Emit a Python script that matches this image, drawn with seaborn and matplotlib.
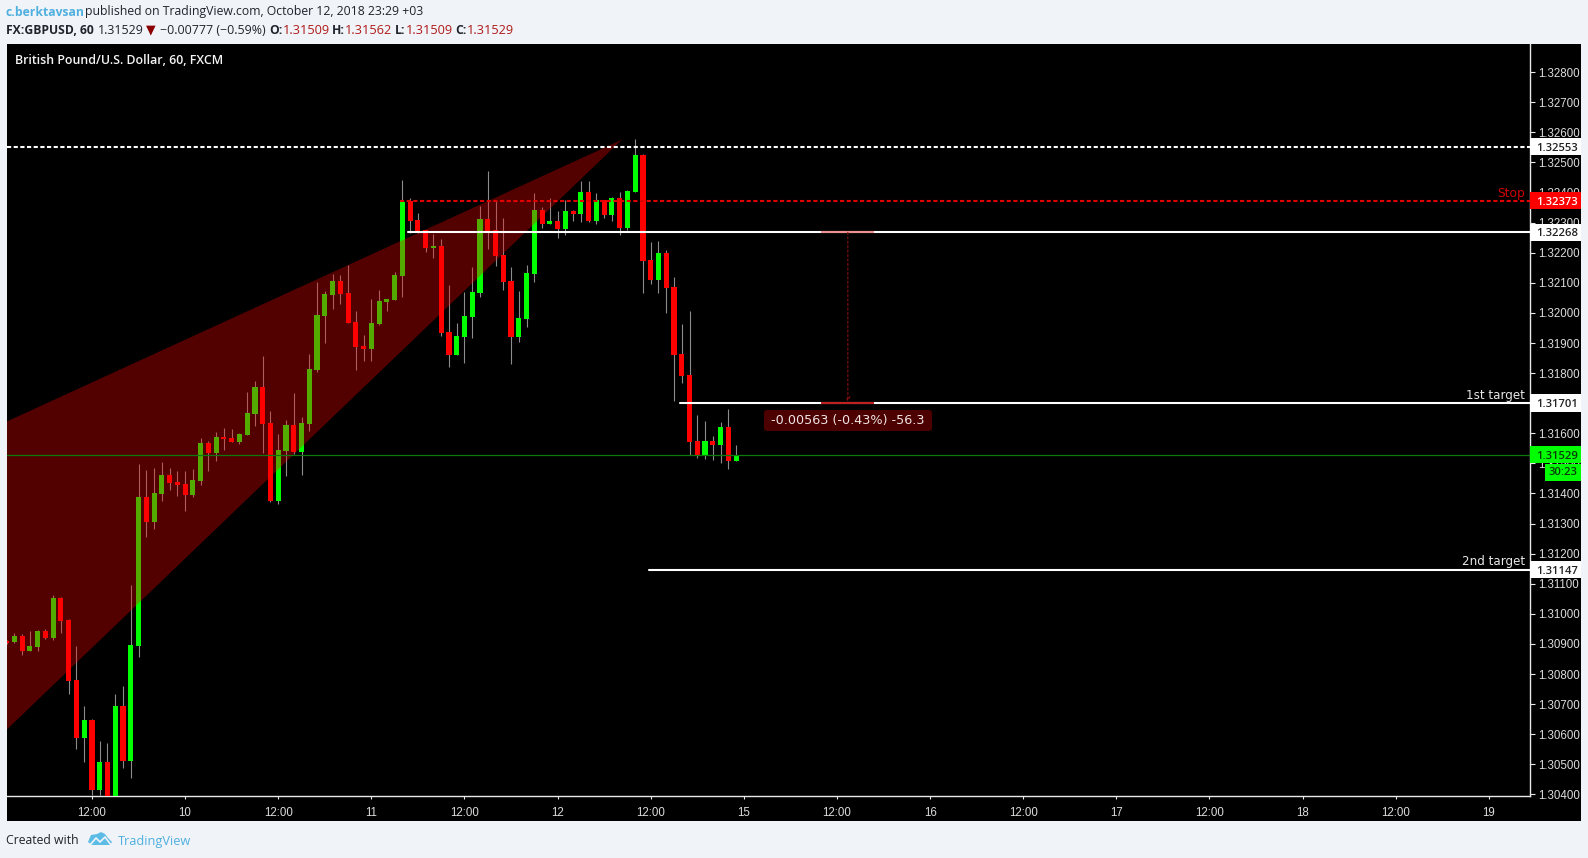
import numpy as np
import pandas as pd
import matplotlib
matplotlib.use('Agg')
import matplotlib.pyplot as plt
import matplotlib.transforms as mtrans
from matplotlib.patches import Rectangle, Polygon, FancyBboxPatch
import seaborn as sns

# hourly candles, hour 0 = Oct 9 12:00
hours = list(range(-11, 84))
opens = [1.30911, 1.30905, 1.30927, 1.30875, 1.30891, 1.30944, 1.30921, 1.31054, 1.30980, 1.30781,
         1.30588, 1.30648, 1.30416, 1.30509, 1.30382, 1.30695, 1.30512, 1.30894, 1.31389, 1.31306,
         1.31399, 1.31462, 1.31439, 1.31432, 1.31396, 1.31442, 1.31569, 1.31535, 1.31589, 1.31585,
         1.31572, 1.31595, 1.31665, 1.31755, 1.31635, 1.31376, 1.31542, 1.31629, 1.31539, 1.31632,
         1.31811, 1.31991, 1.32061, 1.32107, 1.32067, 1.31971, 1.31891, 1.31881, 1.31964, 1.32037,
         1.32044, 1.32124, 1.32373, 1.32310, 1.32277, 1.32217, 1.32223, 1.31938, 1.31861, 1.31921,
         1.31987, 1.32067, 1.32313, 1.32277, 1.32194, 1.32107, 1.31921, 1.31981, 1.32130, 1.32343,
         1.32297, 1.32307, 1.32280, 1.32340, 1.32330, 1.32403, 1.32307, 1.32376, 1.32326, 1.32383,
         1.32283, 1.32403, 1.32526, 1.32177, 1.32110, 1.32200, 1.32087, 1.31865, 1.31795, 1.31575,
         1.31526, 1.31575, 1.31562, 1.31622, 1.31509]
highs = [1.30914, 1.30937, 1.30934, 1.30942, 1.30947, 1.30951, 1.31064, 1.31057, 1.30984, 1.30894,
         1.30695, 1.30651, 1.30578, 1.30572, 1.30735, 1.30761, 1.31097, 1.31499, 1.31479, 1.31486,
         1.31506, 1.31486, 1.31476, 1.31476, 1.31482, 1.31585, 1.31575, 1.31605, 1.31619, 1.31615,
         1.31602, 1.31738, 1.31775, 1.31858, 1.31675, 1.31599, 1.31645, 1.31735, 1.31655, 1.31865,
         1.32104, 1.32074, 1.32130, 1.32127, 1.32160, 1.32007, 1.31928, 1.32047, 1.32077, 1.32047,
         1.32137, 1.32443, 1.32383, 1.32333, 1.32277, 1.32263, 1.32247, 1.32094, 1.31968, 1.32071,
         1.32154, 1.32356, 1.32473, 1.32376, 1.32316, 1.32154, 1.32074, 1.32160, 1.32400, 1.32353,
         1.32383, 1.32340, 1.32376, 1.32343, 1.32439, 1.32439, 1.32400, 1.32376, 1.32386, 1.32403,
         1.32410, 1.32579, 1.32529, 1.32237, 1.32240, 1.32210, 1.32120, 1.31964, 1.32007, 1.31662,
         1.31642, 1.31592, 1.31639, 1.31682, 1.31562]
lows = [1.30901, 1.30904, 1.30864, 1.30875, 1.30875, 1.30917, 1.30914, 1.30937, 1.30735, 1.30552,
        1.30509, 1.30399, 1.30399, 1.30376, 1.30382, 1.30489, 1.30455, 1.30858, 1.31256, 1.31283,
        1.31376, 1.31413, 1.31393, 1.31343, 1.31389, 1.31429, 1.31476, 1.31509, 1.31545, 1.31572,
        1.31565, 1.31595, 1.31625, 1.31535, 1.31373, 1.31366, 1.31459, 1.31532, 1.31462, 1.31609,
        1.31805, 1.31901, 1.32014, 1.32031, 1.31968, 1.31811, 1.31841, 1.31841, 1.31961, 1.32007,
        1.32044, 1.32054, 1.32267, 1.32267, 1.32204, 1.32184, 1.31924, 1.31821, 1.31861, 1.31835,
        1.31918, 1.32054, 1.32213, 1.32157, 1.32077, 1.31831, 1.31904, 1.31954, 1.32104, 1.32283,
        1.32297, 1.32250, 1.32260, 1.32307, 1.32303, 1.32303, 1.32297, 1.32316, 1.32307, 1.32260,
        1.32277, 1.32403, 1.32067, 1.32097, 1.32067, 1.32001, 1.31708, 1.31768, 1.31529, 1.31519,
        1.31516, 1.31512, 1.31502, 1.31482, 1.31509]
closes = [1.30904, 1.30927, 1.30875, 1.30894, 1.30944, 1.30921, 1.31054, 1.30977, 1.30778, 1.30588,
          1.30648, 1.30416, 1.30509, 1.30382, 1.30695, 1.30512, 1.30897, 1.31389, 1.31306, 1.31403,
          1.31462, 1.31436, 1.31429, 1.31396, 1.31446, 1.31569, 1.31535, 1.31589, 1.31582, 1.31572,
          1.31599, 1.31668, 1.31755, 1.31632, 1.31376, 1.31545, 1.31629, 1.31539, 1.31635, 1.31815,
          1.31994, 1.32064, 1.32107, 1.32064, 1.31968, 1.31888, 1.31881, 1.31968, 1.32041, 1.32047,
          1.32127, 1.32370, 1.32307, 1.32270, 1.32217, 1.32223, 1.31934, 1.31861, 1.31924, 1.31991,
          1.32071, 1.32313, 1.32273, 1.32190, 1.32104, 1.31921, 1.31984, 1.32134, 1.32343, 1.32297,
          1.32307, 1.32280, 1.32340, 1.32330, 1.32403, 1.32307, 1.32376, 1.32326, 1.32383, 1.32283,
          1.32406, 1.32526, 1.32174, 1.32110, 1.32200, 1.32084, 1.31861, 1.31791, 1.31572, 1.31526,
          1.31575, 1.31562, 1.31622, 1.31509, 1.31529]

# wedge drawing: hours and prices of the three corners
wedge_hours = [-11, 68.3, -11]
wedge_prices = [1.31639, 1.32576, 1.30615]

# horizontal levels
level_prices = [1.32553, 1.32373, 1.32268, 1.31701, 1.31147]
level_starts = [-11, 39.7, 40.7, 75.8, 71.8]
level_colors = ['#ffffff', '#e00000', '#ffffff', '#ffffff', '#ffffff']
level_dashed = [True, True, False, False, False]
last_price = 1.31529

y_ticks = [1.304, 1.305, 1.306, 1.307, 1.308, 1.309, 1.310, 1.311, 1.312, 1.313, 1.314, 1.315, 1.316,
           1.317, 1.318, 1.319, 1.320, 1.321, 1.322, 1.323, 1.324, 1.325, 1.326, 1.327, 1.328]
x_ticks = [0, 12, 24, 36, 48, 60, 72, 84, 96, 108, 120, 132, 144, 156, 168, 180]
x_labels = ['12:00', '10', '12:00', '11', '12:00', '12', '12:00', '15', '12:00', '16', '12:00', '17',
            '12:00', '18', '12:00', '19']

W, H = 1588, 858
PAGE = '#f0f3f7'
sns.set_theme(style='dark', rc={'axes.facecolor': 'black', 'figure.facecolor': PAGE})
plt.rcParams['font.family'] = ['Liberation Sans', 'DejaVu Sans']

fig = plt.figure(figsize=(W / 100, H / 100), dpi=100)


def fig_rect(x0, y0, x1, y1, **kw):
    # pixel box measured from the top left of the picture
    r = Rectangle((x0 / W, 1 - y1 / H), (x1 - x0) / W, (y1 - y0) / H, transform=fig.transFigure, **kw)
    fig.add_artist(r)
    return r


def fig_text(x, y, s, **kw):
    kw.setdefault('va', 'center')
    kw.setdefault('ha', 'left')
    return fig.text(x / W, 1 - y / H, s, **kw)


fig_rect(7, 44, 1581, 820.5, facecolor='black', linewidth=0, zorder=-5)

ax = fig.add_axes([7 / W, 1 - 796 / H, 1523 / W, 752 / H])
ax.patch.set_alpha(0)

df = pd.DataFrame({'hour': hours, 'open': opens, 'high': highs, 'low': lows, 'close': closes})
df['up'] = df['close'] >= df['open']

ax.vlines(df['hour'], df['low'], df['high'], color='#8c8c8c', linewidth=0.8, zorder=2)
ax.bar(df['hour'], (df['close'] - df['open']).abs(), bottom=df[['open', 'close']].min(axis=1), width=0.66,
       color=np.where(df['up'], '#00ff00', '#ff0000'), linewidth=0, zorder=3)

ax.add_patch(Polygon(list(zip(wedge_hours, wedge_prices)), closed=True, facecolor='#ff0000', alpha=0.33,
                     linewidth=0, zorder=4))

levels = pd.DataFrame({'hour': [-11, 186], 'price': [last_price, last_price]})
sns.lineplot(data=levels, x='hour', y='price', color='#0e7a0e', linewidth=0.9, errorbar=None, ax=ax, zorder=5)
for price, start, col, dashed in zip(level_prices, level_starts, level_colors, level_dashed):
    seg = pd.DataFrame({'hour': [start, 186], 'price': [price, price]})
    style = (0, (2.0, 1.2)) if dashed else '-'
    sns.lineplot(data=seg, x='hour', y='price', color=col, linewidth=1.5, linestyle=style, errorbar=None, ax=ax,
                 zorder=6)
ax.set_xlim(-10.95, 185.3)
ax.set_ylim(1.303946, 1.328938)
ax.set_xlabel('')
ax.set_ylabel('')

# price range drawing
ax.hlines(1.32268, 93.9, 100.8, color='#f09090', linewidth=1.5, zorder=7)
ax.hlines(1.31701, 93.9, 100.8, color='#c02020', linewidth=1.5, zorder=7)
ax.annotate('', xy=(97.4, 1.31705), xytext=(97.4, 1.32268),
            arrowprops=dict(arrowstyle='->', color='#8c1010', linewidth=0.8, linestyle=(0, (2, 2)),
                            shrinkA=0, shrinkB=0, mutation_scale=7), zorder=7)
box = FancyBboxPatch((764, H - 431), 168, 21, transform=mtrans.IdentityTransform(),
                     boxstyle='round,pad=0,rounding_size=3', facecolor='#4c0000', linewidth=0, zorder=8)
fig.add_artist(box)
fig_text(848, 420.5, '-0.00563 (-0.43%) -56.3', ha='center', color='#f0e4e4', fontsize=9.2,
         family=['DejaVu Sans'], zorder=9)

# axes and ticks
ax.yaxis.tick_right()
ax.set_yticks(y_ticks)
# 1.31700 sits fully under the 1st target tag
ax.set_yticklabels(['' if abs(v - 1.317) < 1e-9 else '%.5f' % v for v in y_ticks], fontsize=8.3, color='#dcdcdc')
ax.set_xticks(x_ticks)
ax.set_xticklabels(x_labels, fontsize=8.3, color='#dcdcdc')
ax.tick_params(axis='y', length=3.6, width=0.8, color='#e8e8e8', pad=2, right=True, left=False)
ax.tick_params(axis='x', length=2.2, width=0.8, color='#e8e8e8', pad=5.6, bottom=True)
ax.grid(False)
for side in ['top', 'left']:
    ax.spines[side].set_visible(False)
for side in ['right', 'bottom']:
    ax.spines[side].set_color('#e8e8e8')
    ax.spines[side].set_linewidth(1.0)
    ax.spines[side].set_visible(True)

# price tags on the right scale
blend = mtrans.blended_transform_factory(ax.transAxes, ax.transData)
tag_h = 0.00029
tag_prices = [1.32553, 1.32373, 1.32268, 1.31701, 1.31529, 1.31147]
tag_colors = ['#ffffff', '#ff0000', '#ffffff', '#ffffff', '#00ff00', '#ffffff']
tag_text = ['#222222', '#ffffff', '#222222', '#222222', '#0a3a0a', '#222222']
TAG_FONT = ['Open Sans', 'DejaVu Sans']
for price, bg, fg in zip(tag_prices, tag_colors, tag_text):
    ax.add_patch(Rectangle((1.0, price - tag_h), 51 / 1523, 2 * tag_h, transform=blend, facecolor=bg,
                           linewidth=0, clip_on=False, zorder=10))
    ax.text(1.0 + 27 / 1523, price, '%.5f' % price, transform=blend, ha='center', va='center_baseline',
            color=fg, fontsize=8.1, weight='semibold', family=TAG_FONT, clip_on=False, zorder=11)
fig_rect(1545, 464, 1581, 480.7, facecolor='#00ff00', linewidth=0, zorder=12)
fig_text(1563, 472.5, '30:23', ha='center', color='#0a3a0a', fontsize=8.1, weight='semibold', family=TAG_FONT,
         zorder=13)

# labels on the levels
fig_text(1525, 194, 'Stop', ha='right', color='#d00000', fontsize=8.8, family=['DejaVu Sans'], zorder=9)
fig_text(1525, 395, '1st target', ha='right', color='#e8e8e8', fontsize=8.6, family=['DejaVu Sans'], zorder=9)
fig_text(1525, 561.6, '2nd target', ha='right', color='#e8e8e8', fontsize=8.6, family=['DejaVu Sans'], zorder=9)

# header
HEAD = ['Open Sans', 'DejaVu Sans']
DARK = '#20242c'
RED = '#b01a1a'
fig_text(15, 60.5, 'British Pound/U.S. Dollar, 60, FXCM', color='#f4f4f4', fontsize=8.9, weight='semibold', family=HEAD,
         zorder=9)
fig_text(6, 12, 'c.berktavsan', color='#4fb0e0', fontsize=8.7, weight='bold', family=HEAD)
fig_text(85, 12, 'published on TradingView.com, October 12, 2018 23:29 +03', color=DARK, fontsize=8.8, family=HEAD)
fig_text(6, 30, 'FX:GBPUSD, 60', color=DARK, fontsize=8.7, weight='bold', family=HEAD)
fig_text(98, 30, '1.31529', color=DARK, fontsize=8.9, family=HEAD)
fig_text(146, 30, '\u25bc', color='#8b0000', fontsize=9, family=['DejaVu Sans'])
fig_text(160, 30, '\u22120.00777 (\u22120.59%)', color=DARK, fontsize=8.9, family=HEAD)
for lx, vx, name, val in [(269, 283, 'O:', '1.31509'), (332, 345, 'H:', '1.31562'),
                          (395, 406, 'L:', '1.31509'), (455, 467, 'C:', '1.31529')]:
    fig_text(lx, 30, name, color=DARK, fontsize=8.7, weight='bold', family=HEAD)
    fig_text(vx, 30, val, color=RED, fontsize=9.2, family=HEAD)

# footer with the little cloud logo
fig_text(6, 841, 'Created with', color=DARK, fontsize=8.8, family=HEAD)
fig_text(118, 841, 'TradingView', color='#4fb0e0', fontsize=9.2, family=HEAD)
cloud = [(88, 842), (91, 835), (97, 834), (101, 832), (105, 834), (108, 838), (112, 842), (110, 845), (92, 845)]
fig.add_artist(Polygon([(px / W, 1 - py / H) for px, py in cloud], closed=True, transform=fig.transFigure,
                       facecolor='#5cbce6', linewidth=0))
zig = [(90, 845), (96, 838), (100, 842), (105, 837), (111, 845)]
fig.add_artist(plt.Line2D([px / W for px, py in zig], [1 - py / H for px, py in zig], transform=fig.transFigure,
                          color=PAGE, linewidth=1.2))

fig.savefig('out.png', dpi=100, facecolor=PAGE)
